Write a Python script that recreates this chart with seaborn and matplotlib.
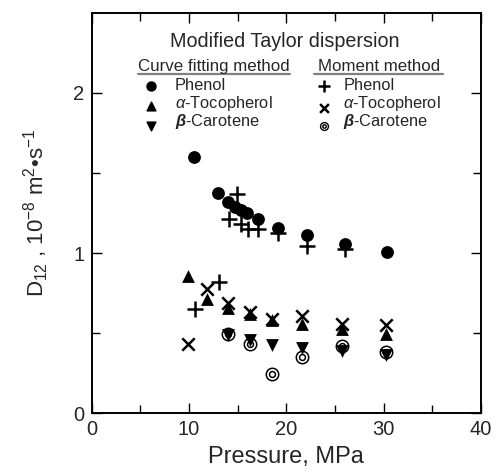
import matplotlib
matplotlib.use("Agg")
import matplotlib.pyplot as plt
import seaborn as sns
import pandas as pd

# ---- data (Pressure in MPa, D12 in 1e-8 m2/s) ----
cf_phenol_p = [10.5, 13.0, 14.06, 14.75, 15.4, 15.95, 17.1, 19.1, 22.1, 26.05, 30.3]
cf_phenol_d = [1.598, 1.372, 1.318, 1.29, 1.269, 1.248, 1.211, 1.159, 1.112, 1.056, 1.004]

cf_toco_p = [9.9, 11.9, 14.0, 16.3, 18.5, 21.6, 25.7, 30.2]
cf_toco_d = [0.859, 0.712, 0.655, 0.621, 0.584, 0.559, 0.528, 0.497]

cf_carot_p = [14.0, 16.3, 18.5, 21.6, 25.7, 30.2]
cf_carot_d = [0.486, 0.455, 0.424, 0.41, 0.391, 0.362]

mm_phenol_p = [10.6, 13.1, 14.1, 14.9, 15.4, 16.1, 17.1, 19.1, 22.1, 26.05]
mm_phenol_d = [0.652, 0.822, 1.215, 1.366, 1.18, 1.149, 1.149, 1.128, 1.045, 1.025]

mm_toco_p = [9.9, 11.9, 14.0, 16.3, 18.5, 21.6, 25.7, 30.2]
mm_toco_d = [0.435, 0.776, 0.687, 0.631, 0.59, 0.61, 0.559, 0.548]

mm_carot_p = [14.0, 16.3, 18.5, 21.6, 25.7, 30.2]
mm_carot_d = [0.497, 0.435, 0.248, 0.352, 0.418, 0.383]

x_ticks = [0, 10, 20, 30, 40]
y_ticks = [0, 1, 2]

sns.set_theme(style="ticks")
plt.rcParams["font.family"] = ["Liberation Sans", "DejaVu Sans"]
plt.rcParams["mathtext.fontset"] = "custom"
plt.rcParams["mathtext.rm"] = "Liberation Sans"
plt.rcParams["mathtext.it"] = "Liberation Sans:italic"
plt.rcParams["mathtext.bf"] = "Liberation Sans:bold:italic"

fig = plt.figure(figsize=(4.96, 4.76), dpi=100)
ax = fig.add_axes([0.1845, 0.1317, 0.7853, 0.8416])

def df(p, d):
    return pd.DataFrame({"p": p, "d": d})

# moment-method markers first (drawn underneath)
sns.scatterplot(data=df(mm_phenol_p, mm_phenol_d), x="p", y="d", ax=ax,
                marker="+", s=120, color="black", linewidth=1.8, zorder=3)
sns.scatterplot(data=df(mm_toco_p, mm_toco_d), x="p", y="d", ax=ax,
                marker="x", s=80, color="black", linewidth=1.8, zorder=3)
sns.scatterplot(data=df(mm_carot_p, mm_carot_d), x="p", y="d", ax=ax,
                marker="o", s=80, facecolor="white", edgecolor="black", linewidth=1.1, zorder=3)
sns.scatterplot(data=df(mm_carot_p, mm_carot_d), x="p", y="d", ax=ax,
                marker="o", s=18, facecolor="white", edgecolor="black", linewidth=1.1, zorder=3)

# curve-fitting markers on top
sns.scatterplot(data=df(cf_phenol_p, cf_phenol_d), x="p", y="d", ax=ax,
                marker="o", s=85, color="black", edgecolor="black", linewidth=0, zorder=4)
sns.scatterplot(data=df(cf_toco_p, cf_toco_d), x="p", y="d", ax=ax,
                marker="^", s=85, color="black", edgecolor="black", linewidth=0, zorder=4)
sns.scatterplot(data=df(cf_carot_p, cf_carot_d), x="p", y="d", ax=ax,
                marker="v", s=85, color="black", edgecolor="black", linewidth=0, zorder=4)

ax.set_xlim(0, 40)
ax.set_ylim(0, 2.5)
ax.set_xticks(x_ticks)
ax.set_yticks(y_ticks)
ax.set_xticks([5, 15, 25, 35], minor=True)
ax.set_yticks([0.5, 1.5], minor=True)
ax.tick_params(which="both", direction="in", top=True, right=True,
               labelsize=14.5, width=1.0, color="black", pad=5)
ax.tick_params(which="major", length=7)
ax.tick_params(which="minor", length=6)
for s in ax.spines.values():
    s.set_linewidth(1.4)
    s.set_color("black")

ax.set_xlabel("Pressure, MPa", fontsize=17, labelpad=5)
ax.set_ylabel(r"D$_{12}$ , 10$^{-8}$ m$^{2}$•s$^{-1}$", fontsize=16, labelpad=16)

# ---- custom legend block ----
T = ax.transAxes
ax.text(0.497, 0.927, "Modified Taylor dispersion", transform=T, ha="center", va="center", fontsize=14.2)
ax.text(0.314, 0.866, "Curve fitting method", transform=T, ha="center", va="center", fontsize=12.2)
ax.text(0.737, 0.866, "Moment method", transform=T, ha="center", va="center", fontsize=12.2)
ax.plot([0.119, 0.509], [0.848, 0.848], transform=T, color="#808080", lw=1.6, clip_on=False)
ax.plot([0.571, 0.903], [0.848, 0.848], transform=T, color="#808080", lw=1.6, clip_on=False)

rows = [0.818, 0.773, 0.728]
labels = ["Phenol", r"$\alpha$-Tocopherol", r"$\mathbf{\beta}$-Carotene"]
for yy, lab in zip(rows, labels):
    ax.text(0.214, yy, lab, transform=T, ha="left", va="center", fontsize=11.8)
    ax.text(0.646, yy, lab, transform=T, ha="left", va="center", fontsize=11.8)

mx1, mx2 = 0.153, 0.597
ax.scatter([mx1], [0.818], transform=T, marker="o", s=42, color="black", clip_on=False)
ax.scatter([mx1], [0.767], transform=T, marker="^", s=40, color="black", clip_on=False)
ax.scatter([mx1], [0.716], transform=T, marker="v", s=40, color="black", clip_on=False)
ax.scatter([mx2], [0.816], transform=T, marker="+", s=70, color="black", linewidth=1.8, clip_on=False)
ax.scatter([mx2], [0.762], transform=T, marker="x", s=40, color="black", linewidth=1.8, clip_on=False)
ax.scatter([mx2], [0.716], transform=T, marker="o", s=32, facecolor="white", edgecolor="black", linewidth=1.0, clip_on=False)
ax.scatter([mx2], [0.716], transform=T, marker="o", s=6, facecolor="white", edgecolor="black", linewidth=1.0, clip_on=False)

fig.savefig("out.png", dpi=100)
